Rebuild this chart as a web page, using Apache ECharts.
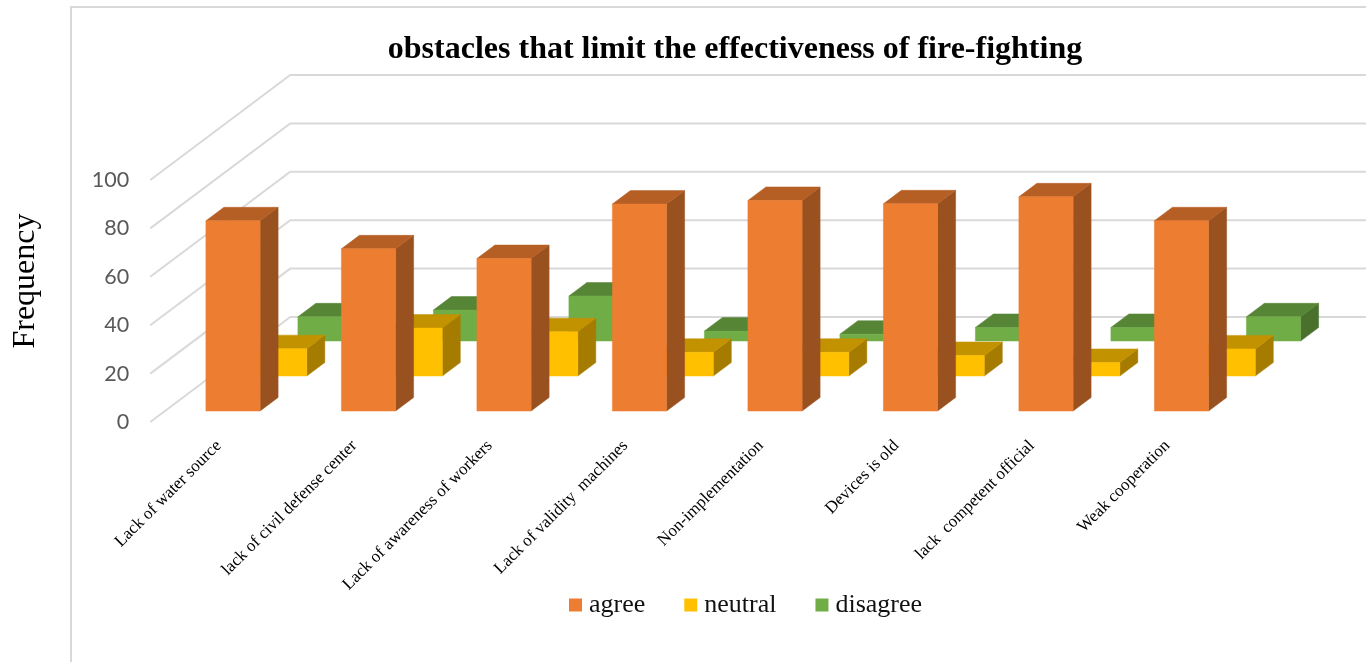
<!DOCTYPE html>
<html>
<head>
<meta charset="utf-8">
<style>html,body{margin:0;padding:0;background:#fff}#c{width:1366px;height:662px}</style>
<script src="https://cdn.jsdelivr.net/npm/echarts@6/dist/echarts.min.js"></script>
</head>
<body>
<div id="c"></div>
<script>
const categories = ['Lack of water source','lack of civil defense center','Lack of awareness of workers','Lack of validity  machines','Non-implementation','Devices is old','lack  competent official','Weak cooperation'];
const agree = [78.6,67,63,85.5,87,85.6,88.5,78.6];
const neutral = [11.3,19.8,18.3,9.8,9.8,8.5,5.6,11.2];
const disagree = [10,12.8,18.6,4.1,2.8,5.6,5.6,10];
const yTicks = [0,20,40,60,80,100];

const chart = echarts.init(document.getElementById('c'));
const DEPTH_X = 18, DEPTH_Y = 13.5;

function poly(points, fill){
  return {type:'polygon', shape:{points}, style:{fill, stroke:fill, lineWidth:0.5}};
}
function barRenderer(shift, colors){
  return function(params, api){
    const p0 = api.coord([api.value(0), 0]);
    const p1 = api.coord([api.value(0), api.value(1)]);
    const w = api.size([1,0])[0] * 0.4;
    const x0 = p0[0] - w/2 + shift[0], x1 = x0 + w;
    const yb = p0[1] + shift[1], yt = p1[1] + shift[1];
    return {type:'group', children:[
      poly([[x1,yb],[x1+DEPTH_X,yb-DEPTH_Y],[x1+DEPTH_X,yt-DEPTH_Y],[x1,yt]], colors[2]),
      poly([[x0,yt],[x0+DEPTH_X,yt-DEPTH_Y],[x1+DEPTH_X,yt-DEPTH_Y],[x1,yt]], colors[1]),
      poly([[x0,yb],[x1,yb],[x1,yt],[x0,yt]], colors[0])
    ]};
  };
}
function wallRenderer(params, api){
  const y = api.coord([0, api.value(0)])[1];
  const x = params.coordSys.x - 15;
  return {type:'polyline', shape:{points:[[x,y],[x+140,y-105],[api.getWidth(),y-105]]},
    style:{fill:null, stroke:'#d9d9d9', lineWidth:2}};
}
function pairs(arr){ return arr.map((v,i)=>[i,v]); }

chart.setOption({
  animation:false,
  backgroundColor:'#fff',
  title:{text:'obstacles that limit the effectiveness of fire-fighting', left:730, top:45,
    textAlign:'center', textVerticalAlign:'middle',
    textStyle:{fontFamily:'Liberation Serif', fontWeight:'bold', fontSize:32, color:'#000'}},
  legend:{data:['agree','neutral','disagree'], left:569, top:592, padding:0, icon:'rect', itemWidth:13, itemHeight:13, itemGap:39,
    textStyle:{fontFamily:'Liberation Serif', fontSize:26, color:'#111', padding:[0,0,0,2]}},
  grid:{left:165.25, right:116.75, top:180, bottom:240, outerBoundsMode:'none'},
  xAxis:{type:'category', data:categories, axisLine:{show:false}, axisTick:{show:false},
    axisLabel:{interval:0, rotate:45, margin:7, padding:[0,20,0,0], fontFamily:'Liberation Serif', fontSize:17, color:'#000', hideOverlap:false}},
  yAxis:{type:'value', min:0, max:100, interval:20, splitLine:{show:false}, axisLine:{show:false}, axisTick:{show:false},
    axisLabel:{margin:36, padding:[5,0,0,0], fontFamily:'Lato', fontSize:21.5, color:'#595959'},
    name:'Frequency', nameLocation:'middle', nameRotate:90, nameGap:124,
    nameTextStyle:{fontFamily:'Liberation Serif', fontSize:32, color:'#000', padding:[0,0,0,40]}},
  graphic:[{type:'polyline', silent:true, z:-1, shape:{points:[[71,662],[71,7],[1366,7]]}, style:{fill:null, stroke:'#d9d9d9', lineWidth:2}}],
  series:[
    {type:'custom', name:'wall', silent:true, z:1, data:yTicks.map(v=>[v]), renderItem:wallRenderer, encode:{y:0}},
    {type:'custom', name:'disagree', z:2, data:pairs(disagree), itemStyle:{color:'#70ad47'}, encode:{x:0,y:1},
      renderItem:barRenderer([92,-81],['#70ad47','#568536','#4a702e'])},
    {type:'custom', name:'neutral', z:3, data:pairs(neutral), itemStyle:{color:'#ffc000'}, encode:{x:0,y:1},
      renderItem:barRenderer([46.7,-46],['#ffc000','#c29200','#a67c00'])},
    {type:'custom', name:'agree', z:4, data:pairs(agree), itemStyle:{color:'#ed7d31'}, encode:{x:0,y:1},
      renderItem:barRenderer([0,-11],['#ed7d31','#b65f24','#9a5120'])}
  ]
});
</script>
</body>
</html>
